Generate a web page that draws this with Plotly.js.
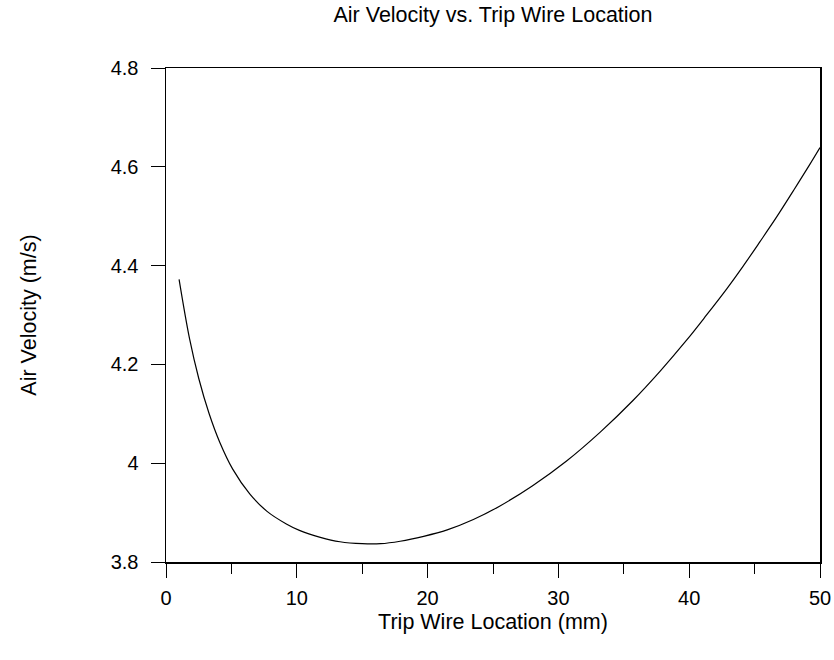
<!DOCTYPE html>
<html>
<head>
<meta charset="utf-8">
<script src="https://cdn.plot.ly/plotly-3.0.1.min.js"></script>
<style>html,body{margin:0;padding:0;background:#fff;}#chart{width:834px;height:660px;}</style>
</head>
<body>
<div id="chart"></div>
<script>
// Data
const tripWireLocation = [1, 1.8, 2.5, 3.3, 4.1, 5.1, 6.4, 7.7, 9.2, 10.2, 11.8, 13.3, 15, 16.4, 17.9, 19.7, 21.5, 23.5, 25.5, 28, 30.6, 33.2, 35.7, 37.8, 39.8, 41.3, 42.9, 44.1, 45.4, 46.7, 48, 49.2, 50];
const airVelocity = [4.372, 4.252, 4.172, 4.100, 4.043, 3.988, 3.938, 3.903, 3.877, 3.864, 3.850, 3.841, 3.837, 3.837, 3.842, 3.852, 3.865, 3.886, 3.913, 3.954, 4.004, 4.063, 4.127, 4.187, 4.249, 4.299, 4.354, 4.398, 4.448, 4.499, 4.553, 4.604, 4.639];
const xTickVals = [0, 10, 20, 30, 40, 50];
const xTickText = ['0', '10', '20', '30', '40', '50'];
const yTickVals = [3.8, 4.0, 4.2, 4.4, 4.6, 4.8];
const yTickText = ['3.8', '4', '4.2', '4.4', '4.6', '4.8'];

const font = {family: 'Arial, "Liberation Sans", sans-serif', color: '#000'};
const tickSize = 20;
const titleSize = 21.5;

const trace = {
  x: tripWireLocation,
  y: airVelocity,
  type: 'scatter',
  mode: 'lines',
  line: {color: '#000', width: 1.2, shape: 'spline', smoothing: 1},
  hoverinfo: 'x+y'
};

const layout = {
  width: 834,
  height: 660,
  paper_bgcolor: '#fff',
  plot_bgcolor: '#fff',
  showlegend: false,
  margin: {l: 166, r: 14, t: 68, b: 98, pad: 0},
  font: Object.assign({size: tickSize}, font),
  title: {
    text: 'Air Velocity vs. Trip Wire Location',
    font: Object.assign({size: titleSize}, font),
    x: 0.5, xref: 'paper', xanchor: 'center',
    y: 1, yref: 'container', yanchor: 'top', pad: {t: 7}
  },
  xaxis: {
    range: [0, 50],
    tickmode: 'array',
    tickvals: xTickVals,
    ticktext: xTickText,
    ticks: 'outside',
    ticklen: 14,
    tickwidth: 1,
    tickcolor: '#000',
    ticklabelstandoff: 3,
    minor: {dtick: 5, tick0: 0, ticks: 'outside', ticklen: 10, tickwidth: 1, tickcolor: '#000', showgrid: false},
    showline: true,
    linecolor: '#000',
    linewidth: 1.5,
    mirror: true,
    showgrid: false,
    zeroline: false,
    tickfont: Object.assign({size: tickSize}, font),
    title: {text: 'Trip Wire Location (mm)', font: Object.assign({size: titleSize}, font), standoff: 6}
  },
  yaxis: {
    range: [3.8, 4.8],
    tickmode: 'array',
    tickvals: yTickVals,
    ticktext: yTickText,
    ticks: 'outside',
    ticklen: 14,
    tickwidth: 1,
    tickcolor: '#000',
    ticklabelstandoff: 8,
    showline: true,
    linecolor: '#000',
    linewidth: 1.5,
    mirror: true,
    showgrid: false,
    zeroline: false,
    tickfont: Object.assign({size: tickSize}, font),
    title: {text: 'Air Velocity (m/s)', font: Object.assign({size: titleSize}, font), standoff: 68}
  }
};

Plotly.newPlot('chart', [trace], layout, {displayModeBar: false, staticPlot: true});
</script>
</body>
</html>
